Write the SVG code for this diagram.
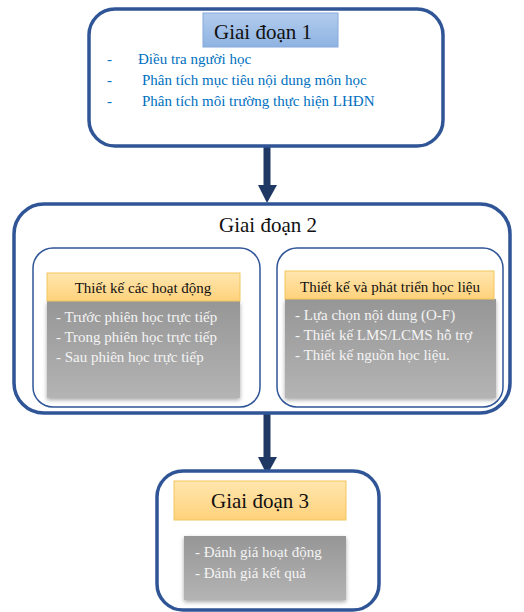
<svg xmlns="http://www.w3.org/2000/svg" width="524" height="612" viewBox="0 0 524 612">
<style>
.outer{fill:#fff;stroke:#2F5597;stroke-width:3.5}
.inner{fill:#fff;stroke:#2F5597;stroke-width:1.5}
.title{font-family:"Liberation Serif",serif;font-size:21px;fill:#111;text-anchor:middle}
.blue{font-family:"Liberation Serif",serif;font-size:15px;fill:#0070C0}
.hdr{fill:url(#og);stroke:#F2C55C;stroke-width:1}
.hdrt{font-family:"Liberation Serif",serif;font-size:15px;fill:#111;text-anchor:middle}
.gray{fill:url(#gg);filter:url(#sh)}
.grayt{font-family:"Liberation Serif",serif;font-size:15px;fill:#F4F4F4}
.conn{stroke:#1F3864;stroke-width:7;fill:none}
.head{fill:#1F3864}
</style>
<defs>
<linearGradient id="bg" x1="0" y1="0" x2="0" y2="1"><stop offset="0" stop-color="#B3CCEC"/><stop offset="1" stop-color="#8EB3E2"/></linearGradient>
<linearGradient id="og" x1="0" y1="0" x2="0" y2="1"><stop offset="0" stop-color="#FFE6AE"/><stop offset="1" stop-color="#FFD27C"/></linearGradient>
<linearGradient id="gg" x1="0" y1="0" x2="0" y2="1"><stop offset="0" stop-color="#969696"/><stop offset="1" stop-color="#B4B4B4"/></linearGradient>
<filter id="sh" x="-10%" y="-10%" width="120%" height="130%"><feDropShadow dx="0" dy="2" stdDeviation="2" flood-color="#000" flood-opacity="0.35"/></filter>
</defs>
<g id="connectors">
<line class="conn" x1="267" y1="147" x2="267" y2="187"/>
<polygon class="head" points="258,185 277,185 267,203"/>
<line class="conn" x1="267" y1="413" x2="267" y2="459"/>
<polygon class="head" points="258,457 277,457 267,475"/>
</g>
<g id="giai-doan-1">
<rect class="outer" x="89" y="9" width="354" height="137" rx="26"/>
<rect x="203" y="13" width="135" height="34" fill="url(#bg)" stroke="#86AADB" stroke-width="1"/>
<text class="title" x="263" y="39">Giai đoạn 1</text>
<text class="blue" x="107" y="64">-</text>
<text class="blue" x="138" y="64">Điều tra người học</text>
<text class="blue" x="107" y="85">-</text>
<text class="blue" x="142" y="85">Phân tích mục tiêu nội dung môn học</text>
<text class="blue" x="107" y="106">-</text>
<text class="blue" x="142" y="106">Phân tích môi trường thực hiện LHĐN</text>
</g>
<g id="giai-doan-2">
<rect class="outer" x="14" y="204" width="496" height="209" rx="30"/>
<text class="title" x="268" y="232" font-size="22">Giai đoạn 2</text>
</g>
<g id="thiet-ke-hoat-dong">
<rect class="inner" x="33" y="248" width="227" height="159" rx="20"/>
<rect class="gray" x="47" y="301" width="193" height="97"/>
<rect class="hdr" x="47" y="273" width="193" height="28"/>
<text class="hdrt" x="143" y="293">Thiết kế các hoạt động</text>
<text class="grayt" x="56" y="322">- Trước phiên học trực tiếp</text>
<text class="grayt" x="56" y="342">- Trong phiên học trực tiếp</text>
<text class="grayt" x="56" y="362">- Sau phiên học trực tiếp</text>
</g>
<g id="thiet-ke-hoc-lieu">
<rect class="inner" x="277" y="248" width="226" height="159" rx="20"/>
<rect class="gray" x="285" y="299" width="211" height="99"/>
<rect class="hdr" x="285" y="271" width="209" height="28"/>
<text class="hdrt" x="390" y="292">Thiết kế và phát triển học liệu</text>
<text class="grayt" x="295" y="320">- Lựa chọn nội dung (O-F)</text>
<text class="grayt" x="295" y="340">- Thiết kế LMS/LCMS hỗ trợ</text>
<text class="grayt" x="295" y="360">- Thiết kế nguồn học liệu.</text>
</g>
<g id="giai-doan-3">
<rect class="outer" x="157" y="471" width="222" height="139" rx="26"/>
<rect class="hdr" x="174" y="481" width="172" height="39"/>
<text class="title" x="260" y="508">Giai đoạn 3</text>
<rect class="gray" x="184" y="536" width="162" height="64"/>
<text class="grayt" x="195" y="557">- Đánh giá hoạt động</text>
<text class="grayt" x="195" y="578">- Đánh giá kết quả</text>
</g>
</svg>
